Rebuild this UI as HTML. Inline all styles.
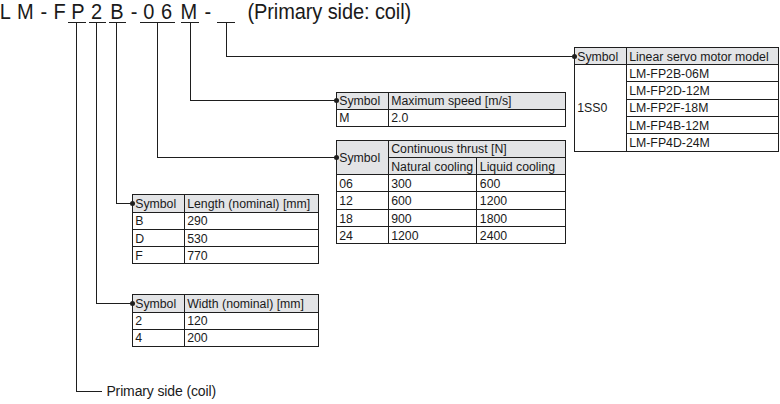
<!DOCTYPE html>
<html><head><meta charset="utf-8"><style>
html,body{margin:0;padding:0;background:#fff;}
body{width:780px;height:404px;position:relative;overflow:hidden;font-family:"Liberation Sans",sans-serif;}
body>div,body>span{position:absolute;}
.t{white-space:pre;line-height:normal;display:block;color:#1a1a1a;}
</style></head><body>
<span class="t" style="left:-0.39px;top:1px;font-size:20px;transform:scaleY(1.07);transform-origin:0 18px">L</span>
<span class="t" style="left:17.06px;top:1px;font-size:20px;transform:scaleY(1.07);transform-origin:0 18px">M</span>
<span class="t" style="left:40.41px;top:1px;font-size:20px;transform:scaleY(1.07);transform-origin:0 18px">-</span>
<span class="t" style="left:53.46px;top:1px;font-size:20px;transform:scaleY(1.07);transform-origin:0 18px">F</span>
<span class="t" style="left:71.16px;top:1px;font-size:20px;transform:scaleY(1.07);transform-origin:0 18px">P</span>
<span class="t" style="left:90.99px;top:1px;font-size:20px;transform:scaleY(1.07);transform-origin:0 18px">2</span>
<span class="t" style="left:110.36px;top:1px;font-size:20px;transform:scaleY(1.07);transform-origin:0 18px">B</span>
<span class="t" style="left:130.81px;top:1px;font-size:20px;transform:scaleY(1.07);transform-origin:0 18px">-</span>
<span class="t" style="left:143.22px;top:1px;font-size:20px;transform:scaleY(1.07);transform-origin:0 18px">0</span>
<span class="t" style="left:160.98px;top:1px;font-size:20px;transform:scaleY(1.07);transform-origin:0 18px">6</span>
<span class="t" style="left:180.56px;top:1px;font-size:20px;transform:scaleY(1.07);transform-origin:0 18px">M</span>
<span class="t" style="left:204.61px;top:1px;font-size:20px;transform:scaleY(1.07);transform-origin:0 18px">-</span>
<span class="t" style="left:247.50px;top:1px;font-size:20px;letter-spacing:-0.1px;transform:scaleY(1.07);transform-origin:0 18px">(Primary side: coil)</span>
<div style="left:68px;top:22px;width:18px;height:1px;background:#1e1e1e"></div>
<div style="left:89px;top:22px;width:17px;height:1px;background:#1e1e1e"></div>
<div style="left:109px;top:22px;width:17px;height:1px;background:#1e1e1e"></div>
<div style="left:140px;top:22px;width:35px;height:1px;background:#1e1e1e"></div>
<div style="left:181px;top:22px;width:18px;height:1px;background:#1e1e1e"></div>
<div style="left:217px;top:22px;width:18px;height:1px;background:#1e1e1e"></div>
<div style="left:76px;top:22px;width:1px;height:370px;background:#1e1e1e"></div>
<div style="left:76px;top:391px;width:26px;height:1px;background:#1e1e1e"></div>
<div style="left:96px;top:22px;width:1px;height:282px;background:#1e1e1e"></div>
<div style="left:96px;top:303px;width:37px;height:1px;background:#1e1e1e"></div>
<div style="left:116px;top:22px;width:1px;height:182px;background:#1e1e1e"></div>
<div style="left:116px;top:203px;width:17px;height:1px;background:#1e1e1e"></div>
<div style="left:157px;top:22px;width:1px;height:136px;background:#1e1e1e"></div>
<div style="left:157px;top:157px;width:180px;height:1px;background:#1e1e1e"></div>
<div style="left:190px;top:22px;width:1px;height:79px;background:#1e1e1e"></div>
<div style="left:190px;top:100px;width:147px;height:1px;background:#1e1e1e"></div>
<div style="left:226px;top:22px;width:1px;height:35px;background:#1e1e1e"></div>
<div style="left:226px;top:56px;width:349px;height:1px;background:#1e1e1e"></div>
<span class="t" style="left:106.40px;top:383px;font-size:14px;letter-spacing:-0.13px">Primary side (coil)</span>
<div style="left:575px;top:48px;width:203px;height:16px;background:#e3e4e6"></div>
<div style="left:574px;top:47px;width:205px;height:1px;background:#1e1e1e"></div>
<div style="left:574px;top:64px;width:205px;height:1px;background:#1e1e1e"></div>
<div style="left:626px;top:81px;width:153px;height:1px;background:#1e1e1e"></div>
<div style="left:626px;top:99px;width:153px;height:1px;background:#1e1e1e"></div>
<div style="left:626px;top:116px;width:153px;height:1px;background:#1e1e1e"></div>
<div style="left:626px;top:133px;width:153px;height:1px;background:#1e1e1e"></div>
<div style="left:574px;top:151px;width:205px;height:1px;background:#1e1e1e"></div>
<div style="left:574px;top:47px;width:1px;height:105px;background:#1e1e1e"></div>
<div style="left:626px;top:47px;width:1px;height:105px;background:#1e1e1e"></div>
<div style="left:778px;top:47px;width:1px;height:105px;background:#1e1e1e"></div>
<span class="t" style="left:577.20px;top:50px;font-size:12.3px;">Symbol</span>
<span class="t" style="left:629.20px;top:50px;font-size:12.3px;">Linear servo motor model</span>
<span class="t" style="left:577.20px;top:101px;font-size:12.3px;">1SS0</span>
<span class="t" style="left:629.20px;top:67px;font-size:12.3px;">LM-FP2B-06M</span>
<span class="t" style="left:629.20px;top:84px;font-size:12.3px;">LM-FP2D-12M</span>
<span class="t" style="left:629.20px;top:101px;font-size:12.3px;">LM-FP2F-18M</span>
<span class="t" style="left:629.20px;top:119px;font-size:12.3px;">LM-FP4B-12M</span>
<span class="t" style="left:629.20px;top:136px;font-size:12.3px;">LM-FP4D-24M</span>
<div style="left:572.0px;top:54.0px;width:5px;height:5px;border-radius:50%;background:#1e1e1e"></div>
<div style="left:337px;top:93px;width:228px;height:16px;background:#e3e4e6"></div>
<div style="left:336px;top:92px;width:230px;height:1px;background:#1e1e1e"></div>
<div style="left:336px;top:109px;width:230px;height:1px;background:#1e1e1e"></div>
<div style="left:336px;top:126px;width:230px;height:1px;background:#1e1e1e"></div>
<div style="left:336px;top:92px;width:1px;height:35px;background:#1e1e1e"></div>
<div style="left:388px;top:92px;width:1px;height:35px;background:#1e1e1e"></div>
<div style="left:565px;top:92px;width:1px;height:35px;background:#1e1e1e"></div>
<span class="t" style="left:339.20px;top:94px;font-size:12.3px;">Symbol</span>
<span class="t" style="left:391.20px;top:94px;font-size:12.3px;">Maximum speed [m/s]</span>
<span class="t" style="left:339.20px;top:111px;font-size:12.3px;">M</span>
<span class="t" style="left:391.20px;top:111px;font-size:12.3px;">2.0</span>
<div style="left:334.0px;top:98.0px;width:5px;height:5px;border-radius:50%;background:#1e1e1e"></div>
<div style="left:337px;top:141px;width:228px;height:33px;background:#e3e4e6"></div>
<div style="left:336px;top:140px;width:230px;height:1px;background:#1e1e1e"></div>
<div style="left:388px;top:157px;width:178px;height:1px;background:#1e1e1e"></div>
<div style="left:336px;top:174px;width:230px;height:1px;background:#1e1e1e"></div>
<div style="left:336px;top:191px;width:230px;height:1px;background:#1e1e1e"></div>
<div style="left:336px;top:209px;width:230px;height:1px;background:#1e1e1e"></div>
<div style="left:336px;top:226px;width:230px;height:1px;background:#1e1e1e"></div>
<div style="left:336px;top:243px;width:230px;height:1px;background:#1e1e1e"></div>
<div style="left:336px;top:140px;width:1px;height:104px;background:#1e1e1e"></div>
<div style="left:388px;top:140px;width:1px;height:104px;background:#1e1e1e"></div>
<div style="left:476px;top:157px;width:1px;height:87px;background:#1e1e1e"></div>
<div style="left:565px;top:140px;width:1px;height:104px;background:#1e1e1e"></div>
<span class="t" style="left:339.20px;top:151px;font-size:12.3px;">Symbol</span>
<span class="t" style="left:391.20px;top:142px;font-size:12.3px;">Continuous thrust [N]</span>
<span class="t" style="left:391.20px;top:160px;font-size:12.3px;">Natural cooling</span>
<span class="t" style="left:479.80px;top:160px;font-size:12.3px;">Liquid cooling</span>
<span class="t" style="left:339.20px;top:177px;font-size:12.3px;">06</span>
<span class="t" style="left:391.20px;top:177px;font-size:12.3px;">300</span>
<span class="t" style="left:479.80px;top:177px;font-size:12.3px;">600</span>
<span class="t" style="left:339.20px;top:194px;font-size:12.3px;">12</span>
<span class="t" style="left:391.20px;top:194px;font-size:12.3px;">600</span>
<span class="t" style="left:479.80px;top:194px;font-size:12.3px;">1200</span>
<span class="t" style="left:339.20px;top:212px;font-size:12.3px;">18</span>
<span class="t" style="left:391.20px;top:212px;font-size:12.3px;">900</span>
<span class="t" style="left:479.80px;top:212px;font-size:12.3px;">1800</span>
<span class="t" style="left:339.20px;top:229px;font-size:12.3px;">24</span>
<span class="t" style="left:391.20px;top:229px;font-size:12.3px;">1200</span>
<span class="t" style="left:479.80px;top:229px;font-size:12.3px;">2400</span>
<div style="left:334.0px;top:155.0px;width:5px;height:5px;border-radius:50%;background:#1e1e1e"></div>
<div style="left:133px;top:195px;width:185px;height:17px;background:#e3e4e6"></div>
<div style="left:132px;top:194px;width:187px;height:1px;background:#1e1e1e"></div>
<div style="left:132px;top:212px;width:187px;height:1px;background:#1e1e1e"></div>
<div style="left:132px;top:229px;width:187px;height:1px;background:#1e1e1e"></div>
<div style="left:132px;top:246px;width:187px;height:1px;background:#1e1e1e"></div>
<div style="left:132px;top:263px;width:187px;height:1px;background:#1e1e1e"></div>
<div style="left:132px;top:194px;width:1px;height:70px;background:#1e1e1e"></div>
<div style="left:184px;top:194px;width:1px;height:70px;background:#1e1e1e"></div>
<div style="left:318px;top:194px;width:1px;height:70px;background:#1e1e1e"></div>
<span class="t" style="left:135.20px;top:197px;font-size:12.3px;">Symbol</span>
<span class="t" style="left:187.20px;top:197px;font-size:12.3px;">Length (nominal) [mm]</span>
<span class="t" style="left:135.20px;top:214px;font-size:12.3px;">B</span>
<span class="t" style="left:187.20px;top:214px;font-size:12.3px;">290</span>
<span class="t" style="left:135.20px;top:232px;font-size:12.3px;">D</span>
<span class="t" style="left:187.20px;top:232px;font-size:12.3px;">530</span>
<span class="t" style="left:135.20px;top:249px;font-size:12.3px;">F</span>
<span class="t" style="left:187.20px;top:249px;font-size:12.3px;">770</span>
<div style="left:130.0px;top:201.0px;width:5px;height:5px;border-radius:50%;background:#1e1e1e"></div>
<div style="left:133px;top:295px;width:185px;height:17px;background:#e3e4e6"></div>
<div style="left:132px;top:294px;width:187px;height:1px;background:#1e1e1e"></div>
<div style="left:132px;top:312px;width:187px;height:1px;background:#1e1e1e"></div>
<div style="left:132px;top:329px;width:187px;height:1px;background:#1e1e1e"></div>
<div style="left:132px;top:346px;width:187px;height:1px;background:#1e1e1e"></div>
<div style="left:132px;top:294px;width:1px;height:53px;background:#1e1e1e"></div>
<div style="left:184px;top:294px;width:1px;height:53px;background:#1e1e1e"></div>
<div style="left:318px;top:294px;width:1px;height:53px;background:#1e1e1e"></div>
<span class="t" style="left:135.20px;top:297px;font-size:12.3px;">Symbol</span>
<span class="t" style="left:187.20px;top:297px;font-size:12.3px;">Width (nominal) [mm]</span>
<span class="t" style="left:135.20px;top:314px;font-size:12.3px;">2</span>
<span class="t" style="left:187.20px;top:314px;font-size:12.3px;">120</span>
<span class="t" style="left:135.20px;top:331px;font-size:12.3px;">4</span>
<span class="t" style="left:187.20px;top:331px;font-size:12.3px;">200</span>
<div style="left:130.0px;top:301.0px;width:5px;height:5px;border-radius:50%;background:#1e1e1e"></div>
</body></html>
